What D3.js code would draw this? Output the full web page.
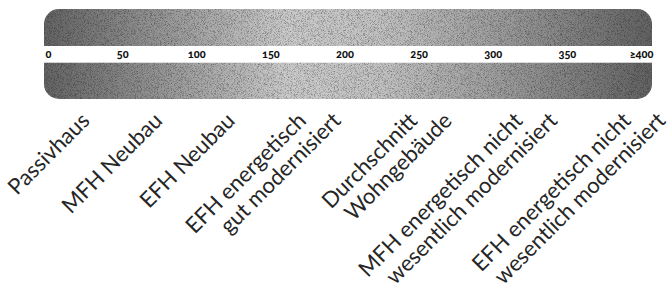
<!DOCTYPE html>
<html>
<head>
<meta charset="utf-8">
<script src="https://cdn.jsdelivr.net/npm/d3@7"></script>
<style>
  body { margin: 0; background: #fff; }
  svg { display: block; }
</style>
</head>
<body>
<svg id="chart" width="672" height="293"></svg>
<script>
// scale ticks (kWh/m²a)
const tickValues = [0, 50, 100, 150, 200, 250, 300, 350, 400]
const tickLabels = ["0", "50", "100", "150", "200", "250", "300", "350", "≥400"]

// building types, each placed at a value on the scale
const categories = [
  ["Passivhaus"],
  ["MFH Neubau"],
  ["EFH Neubau"],
  ["EFH energetisch", "gut modernisiert"],
  ["Durchschnitt", "Wohngebäude"],
  ["MFH energetisch nicht", "wesentlich modernisiert"],
  ["EFH energetisch nicht", "wesentlich modernisiert"]
]
const categoryValues = [29, 78, 127, 175, 250, 321, 394]

const svg = d3.select("#chart")
const width = +svg.attr("width")

const bar = { left: 44, right: 652, top: 9, bottom: 99, radius: 15 }
const strip = { top: 46, bottom: 62.7 }

const x = d3.scaleLinear().domain([0, 400]).range([48, 641])

const defs = svg.append("defs")

const grad = defs.append("linearGradient")
  .attr("id", "barGrad")
  .attr("x1", "0%").attr("x2", "100%").attr("y1", "0%").attr("y2", "0%")
grad.selectAll("stop")
  .data([
    [0, "#646464"], [0.18, "#929292"], [0.4, "#cacaca"],
    [0.55, "#c2c2c2"], [0.75, "#9c9c9c"], [1, "#626262"]
  ])
  .enter().append("stop")
  .attr("offset", d => d[0])
  .attr("stop-color", d => d[1])

// grainy print look
const grain = defs.append("filter").attr("id", "grain")
  .attr("x", 0).attr("y", 0).attr("width", "100%").attr("height", "100%")
grain.append("feTurbulence")
  .attr("type", "fractalNoise").attr("baseFrequency", 1.3)
  .attr("numOctaves", 2).attr("seed", 4).attr("result", "noise")
grain.append("feColorMatrix")
  .attr("in", "noise").attr("type", "matrix")
  .attr("values", "0 0 0 0 0  0 0 0 0 0  0 0 0 0 0  -2.2 0 0 0 1.2")

defs.append("clipPath").attr("id", "barClip")
  .append("rect")
  .attr("x", bar.left).attr("y", bar.top)
  .attr("width", bar.right - bar.left).attr("height", bar.bottom - bar.top)
  .attr("rx", bar.radius)

const g = svg.append("g").attr("clip-path", "url(#barClip)")

g.append("rect")
  .attr("x", bar.left).attr("y", bar.top)
  .attr("width", bar.right - bar.left).attr("height", bar.bottom - bar.top)
  .attr("fill", "url(#barGrad)")

g.append("rect")
  .attr("x", bar.left).attr("y", bar.top)
  .attr("width", bar.right - bar.left).attr("height", bar.bottom - bar.top)
  .attr("filter", "url(#grain)")
  .attr("opacity", 0.45)

svg.append("rect")
  .attr("x", 0).attr("y", strip.top)
  .attr("width", width).attr("height", strip.bottom - strip.top)
  .attr("fill", "#fff")

// tick labels in the white strip
const axis = d3.axisBottom(x)
  .tickValues(tickValues)
  .tickSize(0)
  .tickPadding(0)
  .tickFormat((d, i) => tickLabels[i])

const axisG = svg.append("g")
  .attr("transform", "translate(0," + strip.top + ")")
  .call(axis)
axisG.select(".domain").remove()
axisG.selectAll("text")
  .attr("y", 0)
  .attr("dy", 11.8)
  .attr("fill", "#111")
  .style("font-family", "Lato, sans-serif")
  .style("font-weight", "900")
  .style("font-size", "11px")
  .style("font-variant-numeric", "oldstyle-nums")

// rotated building type labels
const angle = 45
const lineHeight = 24.5
const labelBase = 122
const lineShift = lineHeight / Math.sin(angle * Math.PI / 180)

const labels = svg.append("g")
  .style("font-family", "Lato, sans-serif")
  .style("font-size", "22px")
  .attr("fill", "#262626")

categories.forEach((lines, i) => {
  lines.forEach((line, j) => {
    const px = x(categoryValues[i]) + j * lineShift
    labels.append("text")
      .attr("text-anchor", "end")
      .attr("transform", "translate(" + px + "," + labelBase + ") rotate(" + (-angle) + ")")
      .text(line)
  })
})
</script>
</body>
</html>
